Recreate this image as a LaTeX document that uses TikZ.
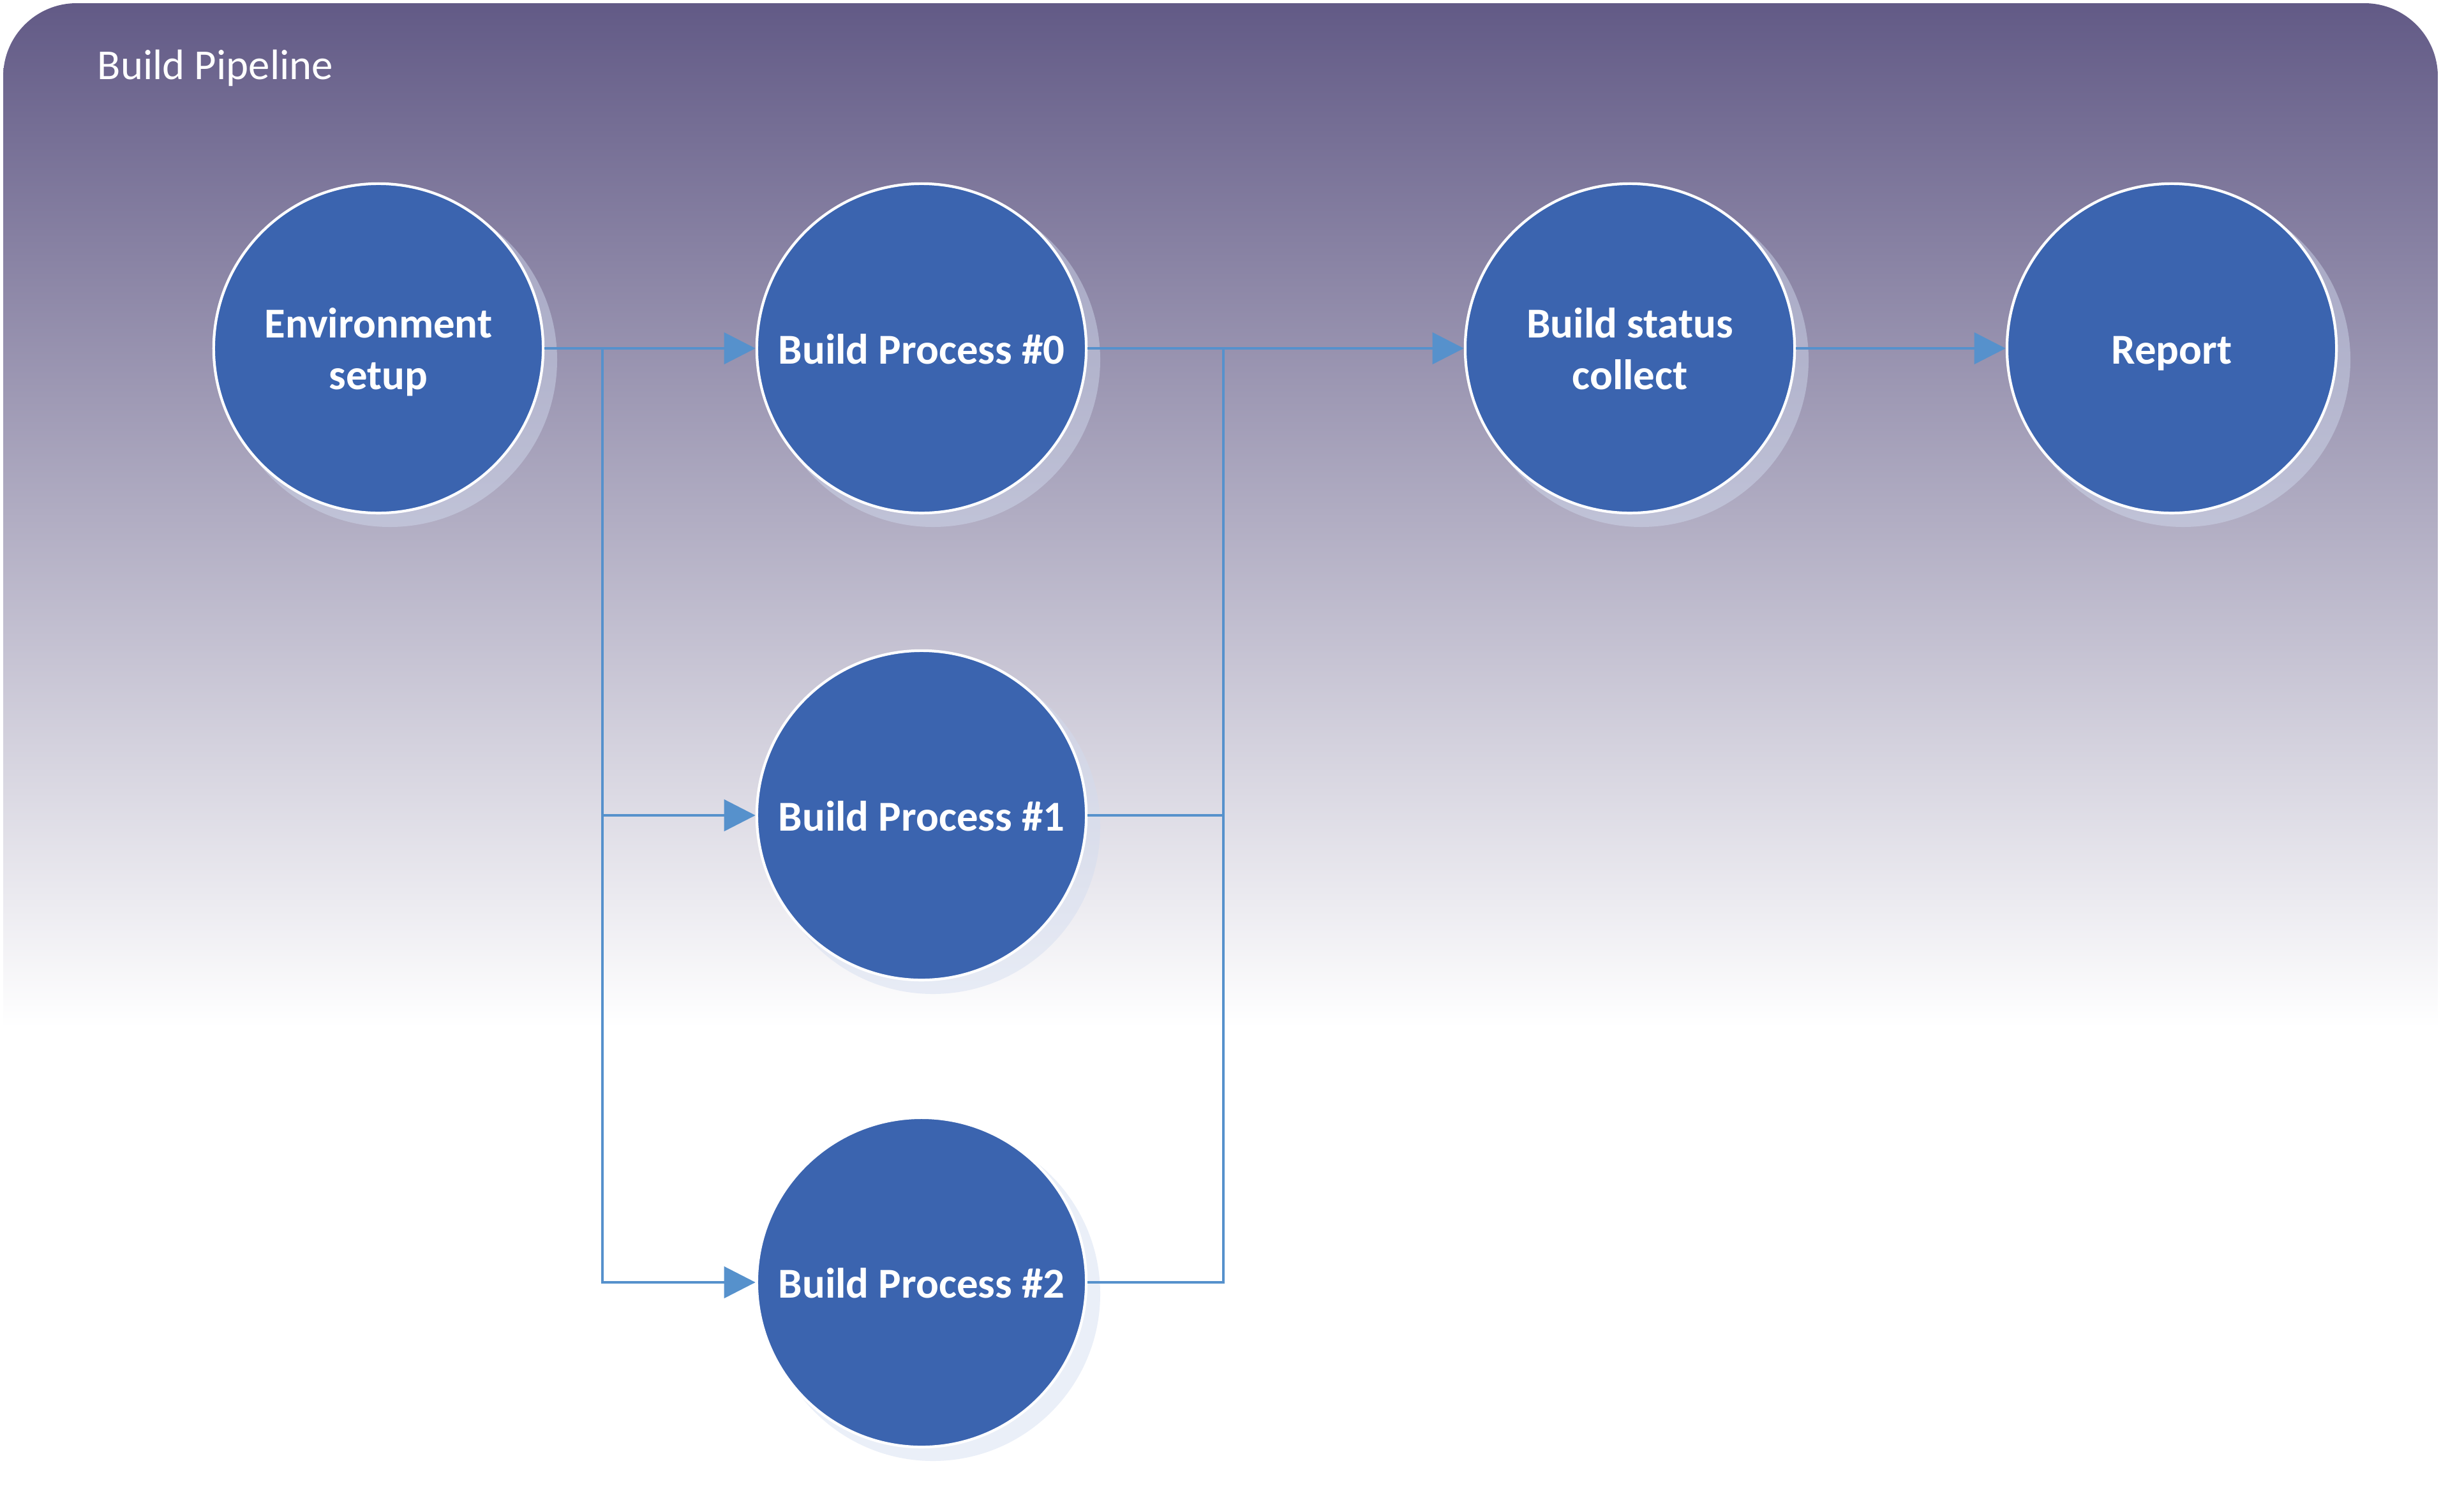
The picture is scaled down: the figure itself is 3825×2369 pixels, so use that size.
\documentclass[tikz,border=0pt]{standalone}
\usepackage{fontspec}
\setmainfont{Carlito}
\usetikzlibrary{arrows.meta}
\definecolor{panelTop}{RGB}{98,90,134}
\definecolor{nodeBlue}{RGB}{59,100,175}
\definecolor{lineBlue}{RGB}{86,145,204}
\definecolor{shadowBlue}{RGB}{210,220,240}
\newcommand{\twolines}[2]{\rule{0pt}{18.6pt}#1\\#2\rule[-5pt]{0pt}{5pt}}
\begin{document}
\begin{tikzpicture}[x=0.01cm,y=-0.01cm,
  proc/.style={circle, fill=nodeBlue, draw=white, line width=1.2pt, minimum size=5.16cm, inner sep=0pt, text=white, font=\bfseries\fontsize{19}{23}\selectfont, align=center},
  oneline/.style={text height=16pt, text depth=2pt},
  conn/.style={draw=lineBlue, line width=1.25pt},
  arr/.style={conn, -{Triangle[length=14pt,width=14pt]}},
  shadowc/.style={fill=shadowBlue, opacity=0.45},
  titletext/.style={text=white, font=\fontsize{19}{23}\selectfont, inner sep=0pt, anchor=base west}]
\useasboundingbox (0,0) rectangle (3825,2369);
\begin{scope}
  \clip[rounded corners=1.15cm] (5,5) rectangle (3820,2600);
  \fill[white] (5,5) rectangle (3820,2369);
  \shade[top color=panelTop, bottom color=white] (5,5) rectangle (3820,1610);
\end{scope}
\node[titletext] (title) at (152,124) {Build Pipeline};
% positions
\coordinate (cEnv) at (593,546);
\coordinate (cB0) at (1444,546);
\coordinate (cB1) at (1444,1278);
\coordinate (cB2) at (1444,2010);
\coordinate (cBS) at (2554,546);
\coordinate (cRep) at (3403,546);
% shadows
\foreach \c in {cEnv,cB0,cB1,cB2,cBS,cRep}{
  \fill[shadowc] ([shift={(18,18)}]\c) circle[radius=262];
}
% nodes
\node[proc] (env) at (cEnv) {\twolines{Environment}{setup}};
\node[proc, oneline] (bp0) at (cB0) {Build Process \#0};
\node[proc, oneline] (bp1) at (cB1) {Build Process \#1};
\node[proc, oneline] (bp2) at (cB2) {Build Process \#2};
\node[proc] (bsc) at (cBS) {\twolines{Build status}{collect}};
\node[proc, oneline] (rep) at (cRep) {Report};
% connectors
\coordinate (split) at (944,546);
\coordinate (merge) at (1917,546);
\draw[arr] (env.east) -- (bp0.west);
\draw[arr] (split) |- (bp1.west);
\draw[arr] (split) |- (bp2.west);
\draw[arr] (bp0.east) -- (bsc.west);
\draw[conn] (bp1.east) -| (merge);
\draw[conn] (bp2.east) -| (merge);
\draw[arr] (bsc.east) -- (rep.west);
\end{tikzpicture}
\end{document}
